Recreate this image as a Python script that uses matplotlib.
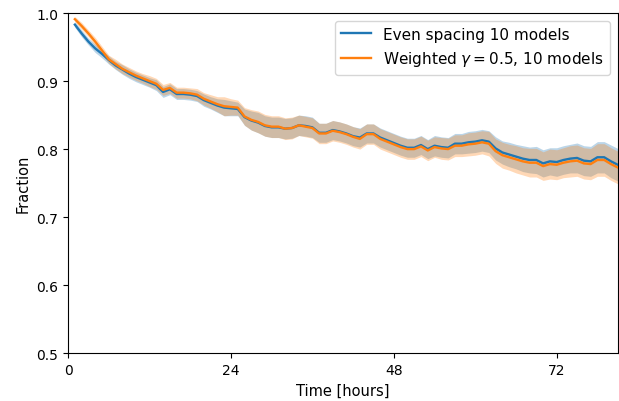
import matplotlib
matplotlib.use("Agg")
import matplotlib.pyplot as plt
import numpy as np

hours = np.arange(1, 82)

even_mean = [0.983, 0.970, 0.958, 0.948, 0.940, 0.931, 0.923, 0.917, 0.911, 0.906,
             0.902, 0.898, 0.894, 0.884, 0.888, 0.881, 0.881, 0.880, 0.878, 0.872,
             0.868, 0.864, 0.861, 0.860, 0.859, 0.847, 0.842, 0.839, 0.834, 0.832,
             0.832, 0.830, 0.831, 0.835, 0.834, 0.832, 0.824, 0.824, 0.828, 0.826,
             0.823, 0.819, 0.817, 0.823, 0.823, 0.817, 0.813, 0.809, 0.805, 0.802,
             0.802, 0.806, 0.800, 0.805, 0.803, 0.802, 0.808, 0.808, 0.810, 0.811,
             0.813, 0.811, 0.801, 0.795, 0.792, 0.789, 0.786, 0.784, 0.784, 0.779,
             0.782, 0.781, 0.784, 0.786, 0.787, 0.783, 0.782, 0.788, 0.788, 0.782, 0.777]

even_std = [0.004, 0.005, 0.005, 0.006, 0.006, 0.006, 0.006, 0.007, 0.007, 0.007,
            0.007, 0.007, 0.008, 0.008, 0.008, 0.008, 0.008, 0.008, 0.008, 0.009,
            0.009, 0.010, 0.012, 0.011, 0.010, 0.012, 0.014, 0.015, 0.015, 0.015,
            0.015, 0.015, 0.015, 0.015, 0.015, 0.015, 0.014, 0.014, 0.014, 0.014,
            0.014, 0.014, 0.014, 0.014, 0.014, 0.014, 0.014, 0.014, 0.014, 0.014,
            0.014, 0.014, 0.014, 0.015, 0.015, 0.015, 0.015, 0.015, 0.016, 0.016,
            0.016, 0.016, 0.017, 0.017, 0.018, 0.018, 0.019, 0.019, 0.020, 0.020,
            0.020, 0.021, 0.021, 0.021, 0.022, 0.022, 0.022, 0.023, 0.023, 0.024, 0.024]

weighted_mean = [0.991, 0.981, 0.970, 0.958, 0.945, 0.932, 0.925, 0.918, 0.913, 0.908,
                 0.904, 0.900, 0.896, 0.887, 0.890, 0.883, 0.883, 0.882, 0.880, 0.874,
                 0.870, 0.866, 0.863, 0.862, 0.861, 0.848, 0.843, 0.840, 0.835, 0.833,
                 0.833, 0.830, 0.831, 0.835, 0.833, 0.831, 0.823, 0.823, 0.827, 0.825,
                 0.822, 0.818, 0.815, 0.822, 0.822, 0.815, 0.811, 0.807, 0.803, 0.800,
                 0.800, 0.804, 0.798, 0.803, 0.801, 0.800, 0.805, 0.805, 0.807, 0.808,
                 0.810, 0.808, 0.797, 0.791, 0.788, 0.785, 0.782, 0.780, 0.780, 0.775,
                 0.778, 0.777, 0.780, 0.782, 0.783, 0.779, 0.778, 0.784, 0.784, 0.778, 0.773]

weighted_std = [0.004, 0.005, 0.005, 0.006, 0.006, 0.006, 0.007, 0.007, 0.007, 0.007,
                0.007, 0.008, 0.008, 0.008, 0.008, 0.008, 0.008, 0.008, 0.009, 0.009,
                0.010, 0.011, 0.014, 0.012, 0.011, 0.013, 0.015, 0.016, 0.016, 0.016,
                0.016, 0.016, 0.016, 0.015, 0.015, 0.015, 0.015, 0.015, 0.015, 0.015,
                0.015, 0.015, 0.015, 0.015, 0.015, 0.015, 0.015, 0.015, 0.015, 0.015,
                0.015, 0.015, 0.015, 0.015, 0.016, 0.016, 0.016, 0.016, 0.017, 0.017,
                0.017, 0.018, 0.018, 0.019, 0.019, 0.020, 0.020, 0.021, 0.021, 0.021,
                0.022, 0.022, 0.022, 0.023, 0.023, 0.023, 0.023, 0.024, 0.024, 0.024, 0.024]

fig = plt.figure(figsize=(6.19, 4.02), dpi=100)
ax = fig.add_axes([0.110, 0.119, 0.888, 0.846])

for mean, std, label, color in [(even_mean, even_std, "Even spacing 10 models", "C0"),
                                (weighted_mean, weighted_std, r"Weighted $\gamma = 0.5$, 10 models", "C1")]:
    mean = np.array(mean)
    std = np.array(std)
    ax.plot(hours, mean, color=color, label=label, lw=1.7, zorder=3)
    ax.fill_between(hours, mean - std, mean + std, color=color, alpha=0.3, lw=0, zorder=1)

ax.set_xlim(0, 81)
ax.set_ylim(0.5, 1.0)
ax.set_xticks([0, 24, 48, 72])
ax.set_xlabel("Time [hours]", fontsize=10.5)
ax.set_ylabel("Fraction", fontsize=10.5)
ax.legend(loc="upper right", fontsize=11)

fig.savefig("out.png", dpi=100)
